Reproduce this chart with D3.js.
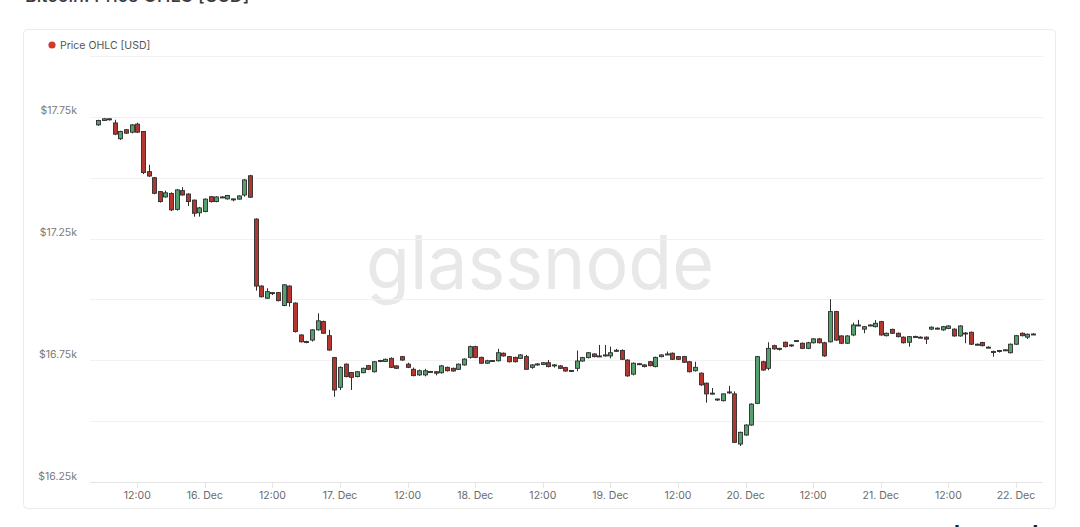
<!DOCTYPE html>
<html>
<head>
<meta charset="utf-8">
<script src="https://cdn.jsdelivr.net/npm/d3@7"></script>
<style>
  html, body { margin: 0; padding: 0; background: #ffffff; }
  svg { display: block; }
  text { font-family: Inter, "Open Sans", "DejaVu Sans", sans-serif; }
</style>
</head>
<body>
<svg id="chart" width="1080" height="527"></svg>
<script>
// ---------------- DATA ----------------
const chartTitle = "Bitcoin: Price OHLC [USD]";
const seriesName = "Price OHLC [USD]";
const firstCandle = Date.UTC(2022, 11, 15, 5, 0); // hourly candles start 15 Dec 05:00 UTC

const opens = [17717,17735,17742,17725,17660,17697,17687,17720,17690,17525,17500,17443,17421,17435,17370,17447,17433,17408,17356,17361,
17422,17402,17421,17413,17412,17412,17429,17508,17330,17055,17005,17028,17028,16975,17055,16985,16854,16826,16833,16875,
16909,16851,16761,16639,16734,16700,16683,16699,16728,16703,16746,16745,16758,16727,16765,16734,16713,16690,16690,16703,
16703,16699,16721,16717,16713,16731,16762,16806,16762,16738,16748,16748,16779,16765,16762,16758,16765,16721,16731,16733,
16740,16729,16727,16720,16706,16717,16747,16761,16776,16766,16768,16768,16789,16790,16751,16693,16736,16731,16744,16724,
16765,16774,16779,16765,16765,16744,16707,16697,16656,16614,16590,16584,16616,16612,16406,16443,16484,16573,16744,16717,
16810,16798,16824,16812,16829,16820,16799,16822,16838,16822,16826,16950,16850,16820,16854,16894,16878,16893,16888,16909,
16851,16877,16861,16845,16824,16847,16845,16845,16878,16882,16875,16881,16878,16850,16862,16865,16816,16823,16804,16786,
16789,16792,16781,16816,16861,16845,16857];
const highs = [17738,17745,17743,17738,17693,17700,17720,17726,17692,17553,17503,17445,17447,17440,17453,17461,17436,17410,17380,17415,
17425,17424,17424,17429,17414,17428,17494,17512,17333,17058,17046,17030,17030,17063,17058,16988,16857,16830,16878,16943,
16913,16875,16764,16725,16737,16702,16706,16720,16731,16747,16752,16757,16762,16729,16768,16740,16720,16712,16715,16706,
16706,16730,16724,16720,16737,16758,16810,16810,16765,16752,16751,16797,16782,16768,16765,16775,16772,16734,16738,16743,
16751,16734,16730,16723,16710,16790,16764,16784,16779,16813,16813,16806,16797,16795,16754,16741,16739,16734,16747,16765,
16775,16786,16782,16768,16768,16747,16744,16700,16658,16636,16592,16614,16645,16622,16457,16487,16573,16768,16748,16824,
16814,16801,16827,16815,16833,16823,16826,16841,16841,16826,17001,16953,16853,16853,16905,16916,16891,16898,16915,16912,
16864,16880,16864,16848,16850,16851,16848,16848,16889,16885,16891,16894,16881,16894,16866,16868,16819,16826,16807,16790,
16792,16795,16819,16854,16864,16860,16861];
const lows = [17713,17733,17735,17675,17655,17680,17682,17684,17515,17503,17432,17398,17418,17363,17365,17426,17384,17340,17340,17358,
17398,17399,17417,17410,17403,17410,17422,17417,17036,17008,17002,17018,16992,16972,16970,16864,16823,16820,16827,16872,
16858,16789,16600,16628,16680,16628,16680,16697,16710,16700,16742,16744,16718,16714,16748,16718,16684,16686,16684,16700,
16688,16695,16704,16703,16710,16728,16757,16759,16735,16735,16745,16745,16765,16741,16741,16755,16710,16715,16728,16730,
16721,16720,16714,16703,16703,16705,16744,16758,16762,16763,16765,16758,16785,16751,16682,16688,16732,16721,16725,16721,
16762,16772,16751,16751,16739,16700,16704,16645,16576,16610,16583,16581,16612,16410,16398,16440,16481,16570,16707,16709,
16793,16790,16803,16805,16827,16796,16796,16819,16819,16764,16823,16830,16817,16817,16849,16891,16861,16890,16885,16851,
16848,16858,16844,16819,16806,16844,16841,16817,16874,16878,16871,16878,16847,16847,16820,16813,16812,16807,16800,16765,
16782,16789,16778,16813,16848,16838,16855];
const closes = [17735,17742,17738,17679,17690,17683,17717,17687,17521,17507,17436,17402,17438,17368,17450,17429,17402,17354,17376,17412,
17402,17421,17420,17427,17413,17425,17491,17420,17055,17011,17032,17026,16995,17060,16987,16868,16826,16827,16875,16912,
16861,16792,16628,16721,16683,16680,16703,16717,16713,16744,16749,16754,16721,16717,16751,16721,16687,16707,16707,16704,
16697,16727,16707,16706,16734,16755,16806,16762,16738,16748,16749,16781,16768,16744,16744,16772,16713,16731,16735,16740,
16724,16731,16717,16706,16708,16747,16761,16781,16765,16768,16772,16781,16791,16754,16686,16738,16735,16724,16728,16762,
16772,16776,16754,16754,16742,16703,16721,16649,16612,16615,16591,16612,16620,16413,16454,16484,16570,16765,16710,16799,
16797,16799,16806,16813,16831,16799,16822,16838,16822,16768,16950,16833,16820,16850,16895,16895,16888,16895,16902,16854,
16861,16861,16847,16822,16847,16848,16844,16837,16886,16881,16888,16891,16850,16891,16861,16816,16815,16810,16803,16785,
16790,16793,16816,16851,16851,16857,16858];

const yTicks = [16250, 16500, 16750, 17000, 17250, 17500, 17750, 18000];
const yLabelTicks = [16250, 16750, 17250, 17750];
const monthNames = ["Jan","Feb","Mar","Apr","May","Jun","Jul","Aug","Sep","Oct","Nov","Dec"];

// ---------------- CHART ----------------
const svg = d3.select("#chart");
const plot = { left: 90, right: 1043, top: 56, bottom: 482 };

const candles = opens.map((o, i) => ({
  t: new Date(firstCandle + i * 3600 * 1000),
  o, h: highs[i], l: lows[i], c: closes[i]
}));

const x = d3.scaleUtc()
  .domain([new Date(Date.UTC(2022, 11, 15, 3, 36)), new Date(Date.UTC(2022, 11, 22, 4, 48))])
  .range([plot.left, plot.right]);
const y = d3.scaleLinear().domain([16250, 18000]).range([plot.bottom, plot.top]);

// page title (mostly cut off at top, as in the reference)
svg.append("text")
  .attr("x", 25).attr("y", 2)
  .attr("font-size", 18).attr("font-weight", 500)
  .attr("fill", "#3a3a3a")
  .text(chartTitle);

// card
svg.append("rect")
  .attr("x", 23.5).attr("y", 29.5).attr("width", 1032).attr("height", 479)
  .attr("rx", 4).attr("fill", "#ffffff").attr("stroke", "#ebebeb");

// legend
svg.append("circle").attr("cx", 52).attr("cy", 45).attr("r", 3.6).attr("fill", "#d0392e");
svg.append("text").attr("x", 60).attr("y", 48.5)
  .attr("font-size", 10.5).attr("fill", "#555").text(seriesName);

// watermark
svg.append("text")
  .attr("x", 366).attr("y", 289)
  .attr("font-size", 74).attr("font-family", "Lato, 'Open Sans', sans-serif")
  .attr("fill", "#e8e8e8")
  .attr("textLength", 348).attr("lengthAdjust", "spacingAndGlyphs")
  .text("glassnode");

// gridlines
svg.append("g").selectAll("line").data(yTicks).join("line")
  .attr("x1", plot.left).attr("x2", plot.right)
  .attr("y1", d => Math.round(y(d)) + 0.5).attr("y2", d => Math.round(y(d)) + 0.5)
  .attr("stroke", d => d === 16250 ? "#e4e4e4" : "#f1f1f1").attr("stroke-width", 1);

// y labels
svg.append("g").selectAll("text").data(yLabelTicks).join("text")
  .attr("x", 77).attr("y", d => y(d) - 2.5)
  .attr("text-anchor", "end").attr("font-size", 10.5).attr("fill", "#7a7a7a")
  .text(d => "$" + (d / 1000).toFixed(2) + "k");

// x axis ticks + labels
const xTicks = d3.utcHour.every(12).range(new Date(Date.UTC(2022, 11, 15, 12)), x.domain()[1]);
const xFmt = d => d.getUTCHours() === 0 ? `${d.getUTCDate()}. ${monthNames[d.getUTCMonth()]}` : "12:00";
svg.append("g").selectAll("line").data(xTicks).join("line")
  .attr("x1", d => Math.round(x(d)) + 0.5).attr("x2", d => Math.round(x(d)) + 0.5)
  .attr("y1", plot.bottom).attr("y2", plot.bottom + 6)
  .attr("stroke", "#e4e4e4");
svg.append("g").selectAll("text").data(xTicks).join("text")
  .attr("x", d => x(d)).attr("y", 498.5)
  .attr("text-anchor", "middle").attr("font-size", 10.5).attr("fill", "#6a6a6a")
  .text(xFmt);

// candles
const green = "#56a070", red = "#b4372f", edge = "#2e2e2e";
const bw = 4;
const cg = svg.append("g").selectAll("g").data(candles).join("g");
cg.append("line")
  .attr("x1", d => Math.round(x(d.t)) + 0.5).attr("x2", d => Math.round(x(d.t)) + 0.5)
  .attr("y1", d => y(d.h)).attr("y2", d => y(d.l))
  .attr("stroke", edge).attr("stroke-width", 1);
cg.append("rect")
  .attr("x", d => Math.round(x(d.t)) + 0.5 - bw / 2)
  .attr("width", bw)
  .attr("y", d => y(Math.max(d.o, d.c)))
  .attr("height", d => Math.max(1, Math.abs(y(d.o) - y(d.c))))
  .attr("fill", d => d.c >= d.o ? green : red)
  .attr("stroke", edge).attr("stroke-width", 0.9);

// bottom-right logo (cut off at the bottom edge, as in the reference)
svg.append("text")
  .attr("x", 940).attr("y", 541)
  .attr("font-size", 22).attr("font-weight", 700).attr("fill", "#222")
  .text("glassnode");
</script>
</body>
</html>
